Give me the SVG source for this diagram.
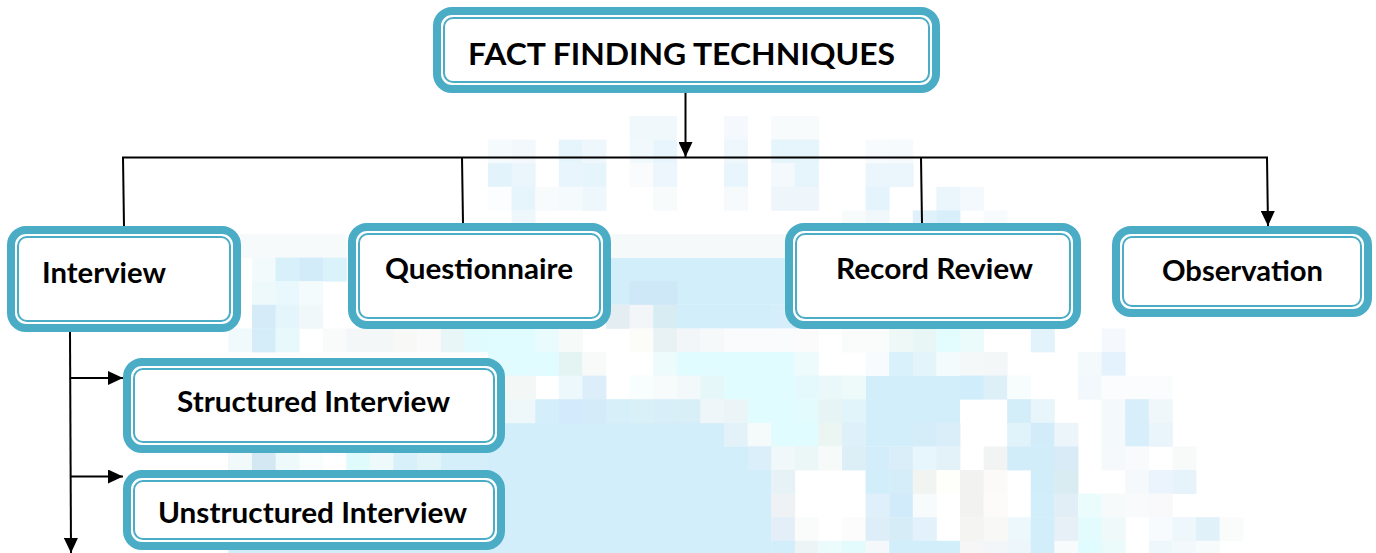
<svg xmlns="http://www.w3.org/2000/svg" width="1376" height="553" viewBox="0 0 1376 553">
<style>
.box{fill:#fff;stroke:#4BACC6;stroke-width:8}
.inner{fill:none;stroke:#4BACC6;stroke-width:2}
.lbl{font-family:Lato,'Liberation Sans',sans-serif;font-weight:700;font-size:28px;fill:#000}
.ttl{font-size:31px}
.con{fill:none;stroke:#000;stroke-width:2}
</style>
<defs>
<marker id="ah" markerUnits="userSpaceOnUse" markerWidth="15" markerHeight="14" refX="15" refY="7" orient="auto">
<path d="M0,0 L15,7 L0,14 z" fill="#000"/>
</marker>
</defs>
<rect width="1376" height="553" fill="#fff"/>
<g id="background">
<rect x="228.4" y="422.8" width="543" height="131" fill="#D2EEFB"/>
<rect x="865.6" y="375.6" width="94.4" height="71" fill="#D2EEFB"/>
<rect x="606" y="257.6" width="189" height="47.2" fill="#D2EEFB"/>
<rect x="606" y="234" width="189" height="24" fill="#F6F9FA"/>
<!-- r0 -->
<rect x="629.6" y="116" width="24" height="24" fill="#F0F8FC"/>
<rect x="653.2" y="116" width="24" height="24" fill="#F0F8FC"/>
<rect x="724" y="116" width="24" height="24" fill="#F5F9FD"/>
<rect x="771.2" y="116" width="48" height="24" fill="#F8FBFC"/>
<!-- r1 -->
<rect x="488" y="139.6" width="24" height="24" fill="#F5FAFC"/>
<rect x="511.6" y="139.6" width="24" height="24" fill="#F2F8FB"/>
<rect x="558.8" y="139.6" width="24" height="24" fill="#E6F4FC"/>
<rect x="582.4" y="139.6" width="24" height="24" fill="#EEF7FC"/>
<rect x="629.6" y="139.6" width="24" height="24" fill="#F2F9FC"/>
<rect x="653.2" y="139.6" width="24" height="24" fill="#E8F5FC"/>
<rect x="724" y="139.6" width="24" height="24" fill="#EEF7FC"/>
<rect x="771.2" y="139.6" width="48" height="24" fill="#E6F4FC"/>
<rect x="865.6" y="139.6" width="24" height="24" fill="#F8FBFD"/>
<rect x="889.2" y="139.6" width="24" height="24" fill="#F6FAFC"/>
<!-- r2 -->
<rect x="488" y="163.2" width="24" height="24" fill="#E3F3FC"/>
<rect x="511.6" y="163.2" width="24" height="24" fill="#EAF6FC"/>
<rect x="558.8" y="163.2" width="24" height="24" fill="#E8F5FC"/>
<rect x="582.4" y="163.2" width="24" height="24" fill="#E6F4FC"/>
<rect x="629.6" y="163.2" width="24" height="24" fill="#FAFBFD"/>
<rect x="653.2" y="163.2" width="24" height="24" fill="#EDF6FC"/>
<rect x="724" y="163.2" width="24" height="24" fill="#E9F5FC"/>
<rect x="771.2" y="163.2" width="24" height="24" fill="#F4F9FD"/>
<rect x="794.8" y="163.2" width="24" height="24" fill="#E6F4FC"/>
<rect x="865.6" y="163.2" width="48" height="24" fill="#EAF5FC"/>
<!-- r3 -->
<rect x="488" y="186.8" width="24" height="24" fill="#FBFDFE"/>
<rect x="511.6" y="186.8" width="24" height="24" fill="#E6F4FC"/>
<rect x="535.2" y="186.8" width="24" height="24" fill="#F8FBFC"/>
<rect x="558.8" y="186.8" width="24" height="24" fill="#F5FAFC"/>
<rect x="582.4" y="186.8" width="24" height="24" fill="#EEF7FC"/>
<rect x="653.2" y="186.8" width="24" height="24" fill="#F8FBFC"/>
<rect x="724" y="186.8" width="24" height="24" fill="#F7FAFC"/>
<rect x="771.2" y="186.8" width="48" height="24" fill="#EEF6FC"/>
<rect x="865.6" y="186.8" width="24" height="24" fill="#E5F3FC"/>
<rect x="936.4" y="186.8" width="24" height="24" fill="#EAF5FC"/>
<rect x="960" y="186.8" width="24" height="24" fill="#F4F9FD"/>
<!-- r4 -->
<rect x="511.6" y="210.4" width="24" height="24" fill="#EEF7FC"/>
<rect x="842" y="210.4" width="24" height="24" fill="#F8FBFC"/>
<rect x="865.6" y="210.4" width="24" height="24" fill="#F0F8FC"/>
<rect x="912.8" y="210.4" width="24" height="24" fill="#E0F1FC"/>
<rect x="936.4" y="210.4" width="24" height="24" fill="#D8EEFA"/>
<rect x="983.6" y="210.4" width="24" height="24" fill="#F8FBFD"/>
<!-- r5 -->
<rect x="228.4" y="234" width="118" height="24" fill="#F7FAFB"/>
<!-- r6 -->
<rect x="252" y="257.6" width="24" height="24" fill="#F2FAFC"/>
<rect x="275.6" y="257.6" width="24" height="24" fill="#D8F0FA"/>
<rect x="299.2" y="257.6" width="24" height="24" fill="#D2ECFA"/>
<rect x="322.8" y="257.6" width="24" height="24" fill="#DAF3FA"/>
<!-- r7 -->
<rect x="252" y="281.2" width="24" height="24" fill="#EEF9FC"/>
<rect x="275.6" y="281.2" width="24" height="24" fill="#E8F8FC"/>
<rect x="299.2" y="281.2" width="24" height="24" fill="#F4FBFC"/>
<rect x="629.6" y="281.2" width="48" height="24" fill="#CFE8F8"/>
<!-- r8 -->
<rect x="252" y="304.8" width="24" height="24" fill="#D5EBF8"/>
<rect x="275.6" y="304.8" width="24" height="24" fill="#E4F6FC"/>
<rect x="299.2" y="304.8" width="24" height="24" fill="#F0F8FA"/>
<rect x="606" y="304.8" width="24" height="24" fill="#E4EEF2"/>
<rect x="629.6" y="304.8" width="24" height="24" fill="#F3F6F8"/>
<rect x="653.2" y="304.8" width="24" height="24" fill="#D8ECF4"/>
<rect x="676.8" y="304.8" width="95" height="24" fill="#D2EEFB"/>
<rect x="771.2" y="304.8" width="48" height="24" fill="#D6EEFA"/>
<!-- r9 -->
<rect x="228.4" y="328.4" width="24" height="24" fill="#F0FAFC"/>
<rect x="252" y="328.4" width="24" height="24" fill="#D5EDF8"/>
<rect x="275.6" y="328.4" width="24" height="24" fill="#E8F9FC"/>
<rect x="322.8" y="328.4" width="24" height="24" fill="#F9FBFB"/>
<rect x="346.4" y="328.4" width="48" height="24" fill="#F4F7F8"/>
<rect x="393.6" y="328.4" width="24" height="24" fill="#F8F8F7"/>
<rect x="417.2" y="328.4" width="24" height="24" fill="#FAFAFA"/>
<rect x="440.8" y="328.4" width="24" height="24" fill="#E8F6F8"/>
<rect x="464.4" y="328.4" width="24" height="24" fill="#E0FBFD"/>
<rect x="488" y="328.4" width="48" height="24" fill="#E0FCFE"/>
<rect x="535.2" y="328.4" width="24" height="24" fill="#EAFBFD"/>
<rect x="558.8" y="328.4" width="24" height="24" fill="#F6FBFA"/>
<rect x="629.6" y="328.4" width="24" height="24" fill="#FCFCF8"/>
<rect x="653.2" y="328.4" width="24" height="24" fill="#E8F2F5"/>
<rect x="676.8" y="328.4" width="24" height="24" fill="#F2F6F8"/>
<rect x="700.4" y="328.4" width="24" height="24" fill="#F6F9FA"/>
<rect x="724" y="328.4" width="71" height="24" fill="#F9FBFC"/>
<rect x="794.8" y="328.4" width="24" height="24" fill="#FBFBFB"/>
<rect x="842" y="328.4" width="48" height="24" fill="#FAFBFB"/>
<rect x="889.2" y="328.4" width="24" height="24" fill="#EEF8F6"/>
<rect x="912.8" y="328.4" width="24" height="24" fill="#E8F6F6"/>
<rect x="936.4" y="328.4" width="24" height="24" fill="#E3FCFD"/>
<rect x="960" y="328.4" width="24" height="24" fill="#EBFBFC"/>
<rect x="1030.8" y="328.4" width="24" height="24" fill="#E3F3FC"/>
<rect x="1101.6" y="328.4" width="24" height="24" fill="#F5F9FD"/>
<!-- r10 -->
<rect x="488" y="352" width="71" height="24" fill="#E0FCFE"/>
<rect x="558.8" y="352" width="24" height="24" fill="#E3F4F3"/>
<rect x="582.4" y="352" width="24" height="24" fill="#F8FAF9"/>
<rect x="653.2" y="352" width="24" height="24" fill="#EEFBFC"/>
<rect x="676.8" y="352" width="118" height="24" fill="#E0FCFE"/>
<rect x="794.8" y="352" width="24" height="24" fill="#EEFBFC"/>
<rect x="865.6" y="352" width="24" height="24" fill="#F7FBFD"/>
<rect x="889.2" y="352" width="24" height="24" fill="#D8F1FA"/>
<rect x="912.8" y="352" width="24" height="24" fill="#E3F4FA"/>
<rect x="936.4" y="352" width="24" height="24" fill="#F4FBFC"/>
<rect x="960" y="352" width="24" height="24" fill="#F5F8F9"/>
<rect x="983.6" y="352" width="24" height="24" fill="#F3F7F7"/>
<rect x="1078" y="352" width="24" height="24" fill="#F4F9FC"/>
<rect x="1101.6" y="352" width="24" height="24" fill="#E3F2FC"/>
<!-- r11 -->
<rect x="488" y="375.6" width="48" height="24" fill="#F3F8F7"/>
<rect x="558.8" y="375.6" width="24" height="24" fill="#EDF8FC"/>
<rect x="582.4" y="375.6" width="24" height="24" fill="#DCEEFA"/>
<rect x="629.6" y="375.6" width="24" height="24" fill="#F8FDFD"/>
<rect x="653.2" y="375.6" width="24" height="24" fill="#F7FBFC"/>
<rect x="676.8" y="375.6" width="24" height="24" fill="#F3F9FA"/>
<rect x="700.4" y="375.6" width="24" height="24" fill="#E6F7F9"/>
<rect x="724" y="375.6" width="71" height="24" fill="#E0FCFE"/>
<rect x="794.8" y="375.6" width="24" height="24" fill="#E3F9FC"/>
<rect x="818.4" y="375.6" width="24" height="24" fill="#EAF8FA"/>
<rect x="842" y="375.6" width="24" height="24" fill="#EEF9FA"/>
<rect x="960" y="375.6" width="24" height="24" fill="#D0EDFC"/>
<rect x="983.6" y="375.6" width="24" height="24" fill="#DDF0F8"/>
<rect x="1007.2" y="375.6" width="24" height="24" fill="#F7FCFC"/>
<rect x="1078" y="375.6" width="24" height="24" fill="#F2F8FB"/>
<rect x="1101.6" y="375.6" width="71" height="24" fill="#FBFCFD"/>
<!-- r12 -->
<rect x="488" y="399.2" width="48" height="24" fill="#EEF8FB"/>
<rect x="535.2" y="399.2" width="24" height="24" fill="#D5EFFA"/>
<rect x="558.8" y="399.2" width="24" height="24" fill="#D2EAFB"/>
<rect x="582.4" y="399.2" width="24" height="24" fill="#D4ECF9"/>
<rect x="606" y="399.2" width="24" height="24" fill="#D6EFF9"/>
<rect x="629.6" y="399.2" width="24" height="24" fill="#DAF0F8"/>
<rect x="653.2" y="399.2" width="24" height="24" fill="#D8EEF9"/>
<rect x="676.8" y="399.2" width="24" height="24" fill="#D8EFF8"/>
<rect x="700.4" y="399.2" width="24" height="24" fill="#EFF6F9"/>
<rect x="724" y="399.2" width="24" height="24" fill="#EBF5F8"/>
<rect x="747.6" y="399.2" width="48" height="24" fill="#E0FCFE"/>
<rect x="794.8" y="399.2" width="24" height="24" fill="#E3FBFC"/>
<rect x="818.4" y="399.2" width="24" height="24" fill="#E6F4F5"/>
<rect x="842" y="399.2" width="24" height="24" fill="#E1F4FA"/>
<rect x="1007.2" y="399.2" width="24" height="24" fill="#D3EEF9"/>
<rect x="1030.8" y="399.2" width="24" height="24" fill="#E8F5FA"/>
<rect x="1101.6" y="399.2" width="24" height="24" fill="#F4F9FB"/>
<rect x="1125.2" y="399.2" width="24" height="24" fill="#D8EEFB"/>
<rect x="1148.8" y="399.2" width="24" height="24" fill="#F0F7FB"/>
<!-- r13 -->
<rect x="724" y="422.8" width="24" height="24" fill="#E3F2F8"/>
<rect x="747.6" y="422.8" width="24" height="24" fill="#F5FAFB"/>
<rect x="771.2" y="422.8" width="48" height="24" fill="#E0FCFE"/>
<rect x="818.4" y="422.8" width="24" height="24" fill="#EBF5F2"/>
<rect x="842" y="422.8" width="24" height="24" fill="#DEF0FA"/>
<rect x="912.8" y="422.8" width="24" height="24" fill="#D5EDF8"/>
<rect x="936.4" y="422.8" width="24" height="24" fill="#DAEEF9"/>
<rect x="1007.2" y="422.8" width="24" height="24" fill="#E1F3FA"/>
<rect x="1030.8" y="422.8" width="24" height="24" fill="#D2ECFA"/>
<rect x="1054.4" y="422.8" width="24" height="24" fill="#ECF5FA"/>
<rect x="1101.6" y="422.8" width="24" height="24" fill="#F4F9FB"/>
<rect x="1125.2" y="422.8" width="24" height="24" fill="#D8EEFA"/>
<rect x="1148.8" y="422.8" width="24" height="24" fill="#EAF4FB"/>
<!-- r14 -->
<rect x="228.4" y="446.4" width="24" height="24" fill="#F2F9FB"/>
<rect x="252" y="446.4" width="24" height="24" fill="#D3E8F3"/>
<rect x="275.6" y="446.4" width="24" height="24" fill="#EEF9FB"/>
<rect x="299.2" y="446.4" width="24" height="24" fill="#F8FDFD"/>
<rect x="322.8" y="446.4" width="24" height="24" fill="#FFFFFF"/>
<rect x="346.4" y="446.4" width="24" height="24" fill="#E0FBFC"/>
<rect x="370" y="446.4" width="24" height="24" fill="#EDF9FB"/>
<rect x="393.6" y="446.4" width="24" height="24" fill="#D8F0FA"/>
<rect x="417.2" y="446.4" width="24" height="24" fill="#E0F4FA"/>
<rect x="440.8" y="446.4" width="48" height="24" fill="#D5EFFA"/>
<rect x="747.6" y="446.4" width="24" height="24" fill="#DAEFF9"/>
<rect x="771.2" y="446.4" width="24" height="24" fill="#F1F8FA"/>
<rect x="794.8" y="446.4" width="24" height="24" fill="#EBF6F7"/>
<rect x="818.4" y="446.4" width="24" height="24" fill="#F6FAF9"/>
<rect x="842" y="446.4" width="24" height="24" fill="#DCEEF6"/>
<rect x="865.6" y="446.4" width="24" height="24" fill="#D4EDFB"/>
<rect x="889.2" y="446.4" width="24" height="24" fill="#DAEEF9"/>
<rect x="912.8" y="446.4" width="24" height="24" fill="#E7F5FC"/>
<rect x="936.4" y="446.4" width="24" height="24" fill="#E3F2F8"/>
<rect x="983.6" y="446.4" width="24" height="24" fill="#F2F4F3"/>
<rect x="1007.2" y="446.4" width="48" height="24" fill="#D2EDFA"/>
<rect x="1054.4" y="446.4" width="24" height="24" fill="#D8EBF6"/>
<rect x="1101.6" y="446.4" width="24" height="24" fill="#F6F9FB"/>
<rect x="1125.2" y="446.4" width="24" height="24" fill="#F8FAFB"/>
<rect x="1172.4" y="446.4" width="24" height="24" fill="#F8FAFA"/>
<!-- r15 -->
<rect x="771.2" y="470" width="24" height="24" fill="#E7F2F7"/>
<rect x="865.6" y="470" width="24" height="24" fill="#D2EEFB"/>
<rect x="889.2" y="470" width="24" height="24" fill="#D5EDF8"/>
<rect x="912.8" y="470" width="24" height="24" fill="#F2F4F2"/>
<rect x="936.4" y="470" width="24" height="24" fill="#FEFEFA"/>
<rect x="960" y="470" width="24" height="24" fill="#F2F3F0"/>
<rect x="983.6" y="470" width="24" height="24" fill="#FBFAF8"/>
<rect x="1030.8" y="470" width="24" height="24" fill="#D2EDFA"/>
<rect x="1054.4" y="470" width="24" height="24" fill="#D8ECF2"/>
<rect x="1125.2" y="470" width="24" height="24" fill="#F6F9FB"/>
<rect x="1148.8" y="470" width="24" height="24" fill="#EBF4FC"/>
<rect x="1172.4" y="470" width="24" height="24" fill="#E6F3FB"/>
<!-- r16 -->
<rect x="771.2" y="493.6" width="24" height="24" fill="#EEF2F4"/>
<rect x="865.6" y="493.6" width="24" height="24" fill="#E0F0FA"/>
<rect x="889.2" y="493.6" width="24" height="24" fill="#D2EBFB"/>
<rect x="912.8" y="493.6" width="24" height="24" fill="#F8FBFC"/>
<rect x="960" y="493.6" width="24" height="24" fill="#F2F3F0"/>
<rect x="983.6" y="493.6" width="24" height="24" fill="#FCFBF9"/>
<rect x="1030.8" y="493.6" width="24" height="24" fill="#D2EEFB"/>
<rect x="1054.4" y="493.6" width="24" height="24" fill="#E1EEF6"/>
<rect x="1078" y="493.6" width="24" height="24" fill="#EBFCFD"/>
<rect x="1101.6" y="493.6" width="24" height="24" fill="#F6FAFB"/>
<rect x="1125.2" y="493.6" width="24" height="24" fill="#F8FAFB"/>
<rect x="1148.8" y="493.6" width="24" height="24" fill="#F9F9FB"/>
<!-- r17 -->
<rect x="771.2" y="517.2" width="24" height="24" fill="#E3EEF8"/>
<rect x="794.8" y="517.2" width="24" height="24" fill="#FAFCFC"/>
<rect x="842" y="517.2" width="24" height="24" fill="#FCFCFC"/>
<rect x="865.6" y="517.2" width="24" height="24" fill="#DDEEF8"/>
<rect x="889.2" y="517.2" width="24" height="24" fill="#D6EDF8"/>
<rect x="912.8" y="517.2" width="24" height="24" fill="#E3F2FA"/>
<rect x="960" y="517.2" width="24" height="24" fill="#F4F4F2"/>
<rect x="983.6" y="517.2" width="24" height="24" fill="#F8F8F6"/>
<rect x="1007.2" y="517.2" width="24" height="24" fill="#EDF8FC"/>
<rect x="1030.8" y="517.2" width="24" height="24" fill="#D2EEFB"/>
<rect x="1054.4" y="517.2" width="24" height="24" fill="#E6F0F6"/>
<rect x="1078" y="517.2" width="24" height="24" fill="#E3FBFD"/>
<rect x="1101.6" y="517.2" width="24" height="24" fill="#EFF9FA"/>
<rect x="1148.8" y="517.2" width="24" height="24" fill="#F7FBFD"/>
<rect x="1172.4" y="517.2" width="24" height="24" fill="#EEF7FB"/>
<rect x="1196" y="517.2" width="24" height="24" fill="#E0F1FA"/>
<rect x="1219.6" y="517.2" width="24" height="24" fill="#FAFCFC"/>
<!-- r18 -->
<rect x="771.2" y="540.8" width="24" height="13" fill="#D2EEFB"/>
<rect x="794.8" y="540.8" width="24" height="13" fill="#EDF4F6"/>
<rect x="818.4" y="540.8" width="24" height="13" fill="#ECFBFC"/>
<rect x="842" y="540.8" width="24" height="13" fill="#E3FBFC"/>
<rect x="865.6" y="540.8" width="24" height="13" fill="#F5F8FA"/>
<rect x="889.2" y="540.8" width="71" height="13" fill="#D2EEFB"/>
<rect x="960" y="540.8" width="24" height="13" fill="#F5F6F5"/>
<rect x="983.6" y="540.8" width="24" height="13" fill="#F3F6F8"/>
<rect x="1007.2" y="540.8" width="24" height="13" fill="#EDF6FA"/>
<rect x="1030.8" y="540.8" width="24" height="13" fill="#D2EEFB"/>
<rect x="1054.4" y="540.8" width="24" height="13" fill="#F8FBFC"/>
<rect x="1078" y="540.8" width="24" height="13" fill="#E0FCFE"/>
<rect x="1101.6" y="540.8" width="24" height="13" fill="#EBFBFC"/>
<rect x="1148.8" y="540.8" width="24" height="13" fill="#EEF8FC"/>
<rect x="1172.4" y="540.8" width="24" height="13" fill="#F2F8FB"/>
<rect x="1196" y="540.8" width="24" height="13" fill="#F8FBFC"/>
</g>
<g id="connectors">
<line class="con" x1="685.5" y1="93" x2="685.5" y2="157" marker-end="url(#ah)"/>
<line class="con" x1="122" y1="157.5" x2="1268" y2="157.5"/>
<line class="con" x1="123" y1="157" x2="124" y2="227"/>
<line class="con" x1="462" y1="157" x2="463" y2="224"/>
<line class="con" x1="921" y1="157" x2="922" y2="224"/>
<line class="con" x1="1267" y1="157" x2="1268" y2="226" marker-end="url(#ah)"/>
<line class="con" x1="70" y1="332" x2="71" y2="553" marker-end="url(#ah)"/>
<line class="con" x1="71" y1="378" x2="123" y2="378" marker-end="url(#ah)"/>
<line class="con" x1="71" y1="476.5" x2="123" y2="476.5" marker-end="url(#ah)"/>
</g>
<g id="node-title">
<rect class="box" x="437" y="11" width="499" height="78" rx="15"/>
<rect class="inner" x="444" y="18" width="485" height="64" rx="9"/>
<text class="lbl ttl" x="468" y="65" textLength="427" lengthAdjust="spacingAndGlyphs">FACT FINDING TECHNIQUES</text>
</g>
<g id="node-interview">
<rect class="box" x="11" y="230" width="226" height="98" rx="15"/>
<rect class="inner" x="18" y="237" width="212" height="84" rx="9"/>
<text class="lbl" x="42" y="283" textLength="124" lengthAdjust="spacingAndGlyphs">Interview</text>
</g>
<g id="node-questionnaire">
<rect class="box" x="352" y="227" width="255" height="98" rx="15"/>
<rect class="inner" x="359" y="234" width="241" height="84" rx="9"/>
<text class="lbl" x="385" y="279" textLength="188" lengthAdjust="spacingAndGlyphs">Questionnaire</text>
</g>
<g id="node-record-review">
<rect class="box" x="789" y="227" width="288" height="98" rx="15"/>
<rect class="inner" x="796" y="234" width="274" height="84" rx="9"/>
<text class="lbl" x="836" y="279" textLength="197" lengthAdjust="spacingAndGlyphs">Record Review</text>
</g>
<g id="node-observation">
<rect class="box" x="1116" y="230" width="252" height="83" rx="15"/>
<rect class="inner" x="1123" y="237" width="238" height="69" rx="9"/>
<text class="lbl" x="1162" y="281" textLength="161" lengthAdjust="spacingAndGlyphs">Observation</text>
</g>
<g id="node-structured">
<rect class="box" x="127" y="362" width="374" height="87" rx="15"/>
<rect class="inner" x="134" y="369" width="360" height="73" rx="9"/>
<text class="lbl" x="177" y="412" textLength="273" lengthAdjust="spacingAndGlyphs">Structured Interview</text>
</g>
<g id="node-unstructured">
<rect class="box" x="127" y="474" width="374" height="72" rx="15"/>
<rect class="inner" x="134" y="481" width="360" height="58" rx="9"/>
<text class="lbl" x="158" y="523" textLength="309" lengthAdjust="spacingAndGlyphs">Unstructured Interview</text>
</g>
</svg>
